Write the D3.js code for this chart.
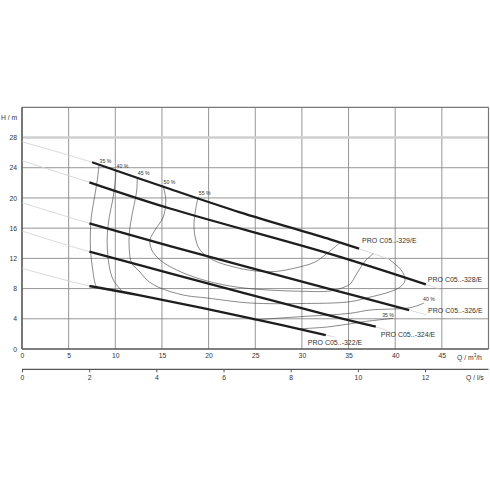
<!DOCTYPE html>
<html><head><meta charset="utf-8">
<script src="https://cdn.jsdelivr.net/npm/d3@7"></script>
<style>
body{margin:0;background:#fff}
text{font-family:"Liberation Sans",Arial,sans-serif;fill:#333}
</style>
</head><body><svg id="c" width="490" height="490"></svg>
<script>
// ---------- data ----------
const hTicks = [0, 4, 8, 12, 16, 20, 24, 28];
const qTicks = [0, 5, 10, 15, 20, 25, 30, 35, 40, 45];
const lsTicks = [0, 2, 4, 6, 8, 10, 12];

const pumpNames = ["PRO C05..-329/E", "PRO C05..-328/E", "PRO C05..-326/E", "PRO C05..-324/E", "PRO C05..-322/E"];
// operating range (bold) [Q m3/h, H m]
const pump329 = [[7.51, 24.72], [15.87, 21.18], [23.37, 18.10], [33.02, 14.52], [36.13, 13.28]];
const pump328 = [[7.22, 22.07], [15.87, 18.6], [33.02, 12.6], [43.28, 8.56]];
const pump326 = [[7.22, 16.64], [15.87, 13.63], [33.02, 7.94], [41.49, 5.16]];
const pump324 = [[7.22, 12.88], [15.87, 10.02], [33.02, 4.41], [37.92, 2.95]];
const pump322 = [[7.22, 8.34], [12.65, 7.1], [25.52, 3.8], [32.56, 1.85]];
// shut-off head (thin extension to Q = 0)
const shutoffH = [27.44, 24.93, 19.37, 15.62, 10.68];
// end of thin extension beyond the bold range
const runoutExt = [[39.5, 11.8], [44.82, 7.9], [43.39, 4.5], [39.64, 2.16], [33.6, 1.55]];

const effLabels = ["35 %", "40 %", "45 %", "50 %", "55 %"];
const eff35 = [[8.26, 24.41], [8.07, 22.37], [7.72, 19.73], [7.43, 17.51], [7.32, 14.86], [7.37, 12.67], [7.58, 10.46], [7.83, 8.70], [8.01, 8.14]];
const eff35b = [[29.48, 2.65], [33.02, 2.95], [36.59, 3.61], [39.78, 4.06]];
const eff40 = [[10.08, 23.68], [9.97, 21.94], [9.72, 19.72], [9.36, 17.51], [9.15, 15.32], [9.15, 13.11], [9.36, 10.89], [9.79, 9.13], [10.86, 7.45]];
const eff40b = [[24.77, 3.85], [29.81, 4.28], [35.17, 4.73], [37.31, 5.16], [41.6, 5.47], [43.1, 6.09]];
const eff45 = [[12.36, 22.77], [12.30, 21.05], [12.12, 19.72], [11.76, 17.51], [11.50, 15.32], [11.50, 13.11], [11.76, 11.35], [12.65, 10.19], [13.40, 9.13], [14.58, 8.21], [17.26, 7.15], [19.84, 6.75], [24.45, 6.09], [29.81, 6.02], [35.17, 6.26], [37.31, 6.88], [39.03, 7.41], [40.53, 8.21], [41.06, 9.13], [40.63, 10.46], [39.35, 11.87]];
const eff50 = [[15.12, 21.64], [15.41, 19.72], [15.15, 17.51], [14.26, 15.75], [13.72, 14.43], [13.91, 13.11], [14.80, 11.78], [16.59, 10.46], [19.08, 9.27], [22.30, 8.34], [25.52, 7.88], [29.81, 7.65], [33.02, 7.68], [34.42, 8.14], [35.17, 8.60], [35.92, 10.06], [36.78, 11.65], [37.67, 12.64]];
const eff55 = [[18.90, 20.16], [18.66, 18.84], [18.44, 16.64], [18.55, 14.87], [19.08, 13.11], [20.48, 11.78], [22.52, 10.92], [24.98, 10.33], [27.13, 10.26], [29.27, 10.72], [31.41, 11.52], [32.81, 12.77], [34.09, 14.08]];

// ---------- chart ----------
const svg = d3.select("#c");
const x = d3.scaleLinear().domain([0, 50]).range([22, 488.5]);
const y = d3.scaleLinear().domain([0, 32]).range([349, 107.3]);
const xl = d3.scaleLinear().domain([0, 50 / 3.6]).range([22, 488.5]);

const line = d3.line().x(d => x(d[0])).y(d => y(d[1])).curve(d3.curveCatmullRom.alpha(0.5));

// grid
const g = svg.append("g");
g.selectAll(".vg").data(qTicks.slice(1)).join("line")
  .attr("x1", d => x(d)).attr("x2", d => x(d)).attr("y1", y(32)).attr("y2", y(0))
  .attr("stroke", "#8a8a8a").attr("stroke-width", 0.9);
g.selectAll(".hg").data(hTicks.slice(1)).join("line")
  .attr("x1", x(0)).attr("x2", x(50)).attr("y1", d => y(d)).attr("y2", d => y(d))
  .attr("stroke", d => d === 28 ? "#cfcfcf" : "#8a8a8a").attr("stroke-width", d => d === 28 ? 2.4 : 0.9);
// frame
g.append("line").attr("x1", x(0)).attr("x2", x(50)).attr("y1", y(32)).attr("y2", y(32)).attr("stroke", "#777").attr("stroke-width", 1.2);
g.append("line").attr("x1", x(50)).attr("x2", x(50)).attr("y1", y(32)).attr("y2", y(0)).attr("stroke", "#777").attr("stroke-width", 1.2);

// axes
const yAxis = d3.axisLeft(y).tickValues(hTicks).tickSize(0).tickPadding(5);
const ya = svg.append("g").attr("transform", `translate(${x(0)},0)`).call(yAxis);
const xAxis = d3.axisBottom(x).tickValues(qTicks).tickSize(0).tickPadding(4);
const xa = svg.append("g").attr("transform", `translate(0,${y(0)})`).call(xAxis);
[ya, xa].forEach(a => {
  a.select(".domain").attr("stroke", "#555").attr("stroke-width", 1.6);
  a.selectAll("text").attr("font-size", 6.8).attr("fill", "#333").attr("font-family", "Liberation Sans, Arial, sans-serif");
});
ya.select(".domain").attr("d", `M0,${y(32)}V${y(0)}`);
xa.select(".domain").attr("d", `M${x(0)},0H${x(50)}`);

const lsAxis = d3.axisBottom(xl).tickValues(lsTicks).tickSize(3).tickPadding(3);
const la = svg.append("g").attr("transform", "translate(0,369.3)").call(lsAxis);
la.select(".domain").attr("d", `M${x(0)},0H${x(50)}`).attr("stroke", "#555").attr("stroke-width", 1.2);
la.selectAll(".tick line").attr("stroke", "#555");
la.selectAll("text").attr("font-size", 6.8).attr("fill", "#333").attr("font-family", "Liberation Sans, Arial, sans-serif");

svg.append("text").attr("x", 1).attr("y", 119.5).attr("font-size", 6.8).text("H / m");
const ql = svg.append("text").attr("x", 457).attr("y", 359.5).attr("font-size", 6.8);
ql.append("tspan").text("Q / m");
ql.append("tspan").attr("font-size", 4.5).attr("dy", -2.5).text("3");
ql.append("tspan").attr("dy", 2.5).text("/h");
svg.append("text").attr("x", 466).attr("y", 380).attr("font-size", 6.8).text("Q / l/s");

// pump curves
const pumps = [pump329, pump328, pump326, pump324, pump322];
pumps.forEach((p, i) => {
  const full = [[0, shutoffH[i]]].concat(p, [runoutExt[i]]);
  svg.append("path").attr("d", line(full)).attr("fill", "none").attr("stroke", "#cfcfcf").attr("stroke-width", 0.8);
});

// efficiency curves
const effs = [eff35, eff40, eff45, eff50, eff55];
const effRight = [eff35b, eff40b];
effs.concat(effRight).forEach(e => {
  svg.append("path").attr("d", line(e)).attr("fill", "none").attr("stroke", "#3a3a3a").attr("stroke-width", 0.6);
});

pumps.forEach(p => {
  svg.append("path").attr("d", line(p)).attr("fill", "none").attr("stroke", "#1e1e1e").attr("stroke-width", 2.3);
});

// efficiency labels
effs.forEach((e, i) => {
  svg.append("text").attr("x", x(e[0][0]) + 0.5).attr("y", y(e[0][1]) - 2).attr("font-size", 5.2).text(effLabels[i]);
});
effRight.forEach((e, i) => {
  const last = e[e.length - 1];
  const off = i === 0 ? [-11, -1.8] : [-1, -2.5];
  svg.append("text").attr("x", x(last[0]) + off[0]).attr("y", y(last[1]) + off[1]).attr("font-size", 5.2).text(effLabels[i]);
});

// pump labels (offsets from end of bold range)
const labelOff = [[3, -5.5], [2, -2.8], [19, 2.5], [5, 10.5], [-18, 9.5]];
pumps.forEach((p, i) => {
  const last = p[p.length - 1];
  svg.append("text").attr("x", x(last[0]) + labelOff[i][0]).attr("y", y(last[1]) + labelOff[i][1])
    .attr("font-size", 7).text(pumpNames[i]);
});
</script>
</body></html>
